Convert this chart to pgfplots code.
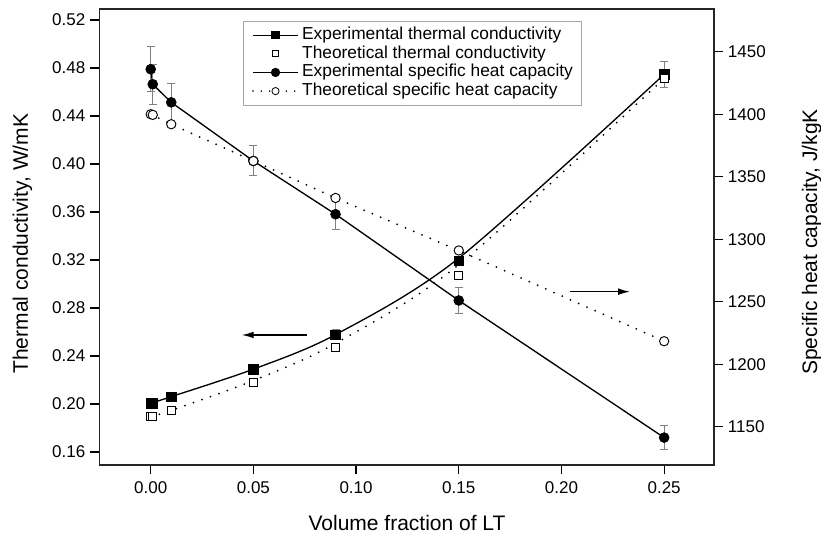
\documentclass[border=0pt]{standalone}
\usepackage{fontspec}
\setmainfont{Liberation Sans}
\usepackage{pgfplots}
\usepackage{pgfplotstable}
\pgfplotsset{compat=1.18}
\usetikzlibrary{arrows.meta}
\definecolor{errgray}{HTML}{808080}

\pgfplotstableread{
x y e
0 0.2005 0.003
0.001 0.2005 0.003
0.01 0.2061 0.003
0.05 0.2290 0.004
0.09 0.2578 0.004
0.15 0.3192 0.003
0.25 0.4747 0.011
}\tcexp
\pgfplotstableread{
x y
0 0.1895
0.001 0.1898
0.01 0.1944
0.05 0.2178
0.09 0.2472
0.15 0.3067
0.25 0.4713
}\tctheo
\pgfplotstableread{
x y e
0 1436 18
0.001 1424 16
0.01 1409.5 15
0.05 1362.6 12
0.09 1320 12
0.15 1251 10.7
0.25 1141.3 9.3
}\hcexp
\pgfplotstableread{
x y
0 1400
0.001 1399.5
0.01 1392
0.05 1362.6
0.09 1333
0.15 1291
0.25 1218.4
}\hctheo

\begin{document}
\begin{tikzpicture}
\useasboundingbox (-74.5pt,-52.5pt) rectangle (541.3pt,348.75pt);
\pgfplotsset{
  common/.style={scale only axis, width=461pt, height=342pt,
    xmin=-0.02502, xmax=0.27425,
    tick align=outside, major tick length=7pt,
    tick style={black, line width=0.9pt},
    axis line style={line width=1pt, black!85},
    /pgf/number format/assume math mode=true,
    ticklabel style={font=\fontsize{12.75}{15}\selectfont},
    scaled ticks=false, minor tick num=0},
  ebar/.style={error bars/.cd, y dir=both, y explicit,
    error bar style={errgray, line width=0.75pt},
    error mark options={rotate=90, errgray, mark size=3pt, line width=0.75pt}},
}
\begin{axis}[common, ymin=0.14917, ymax=0.52917, tick pos=left,
  xtick={0,0.05,0.1,0.15,0.2,0.25},
  ytick={0.16,0.2,0.24,0.28,0.32,0.36,0.4,0.44,0.48,0.52},
  xticklabel style={/pgf/number format/.cd, fixed, fixed zerofill, precision=2},
  yticklabel style={/pgf/number format/.cd, fixed, fixed zerofill, precision=2},
  xticklabel shift=2pt]
% theoretical conductivity dotted curve
\addplot[forget plot, black, line width=1.5pt, line cap=round, dash pattern=on 0pt off 6.75pt, smooth]
  coordinates {(0,0.1895) (0.01,0.1946) (0.05,0.2195) (0.09,0.2505) (0.15,0.316) (0.25,0.4713)};
% experimental conductivity line
\addplot[forget plot, black, line width=1pt, smooth]
  coordinates {(0,0.2005) (0.01,0.2061) (0.05,0.2290) (0.09,0.2578) (0.15,0.3215) (0.25,0.4747)};
\addplot[forget plot, only marks, mark=square*, mark size=3.6pt, mark options={black}, ebar]
  table[x=x, y=y, y error=e]{\tcexp};
\addplot[forget plot, only marks, mark=square*, mark size=3pt, mark options={fill=white, draw=black, line width=0.7pt}]
  table[x=x, y=y]{\tctheo};
\draw[-{Latex[length=9pt,width=5pt]}, line width=1pt] (axis cs:0.0759,0.2575) -- (axis cs:0.0443,0.2575);
\draw[-{Latex[length=9pt,width=5pt]}, line width=1pt] (axis cs:0.2041,0.2936) -- (axis cs:0.2334,0.2936);
\end{axis}

\begin{axis}[common, ymin=1119.4, ymax=1484.2, axis x line=none, axis y line*=right,
  ytick={1150,1200,1250,1300,1350,1400,1450},
  yticklabel style={/pgf/number format/.cd, fixed, precision=0, 1000 sep={}},
  legend cell align=left,
  legend image code/.code={\draw[mark repeat=2,mark phase=2,#1] plot coordinates {(0pt,0pt) (16.9pt,0pt) (33.75pt,0pt)};},
  legend style={at={(axis description cs:0.2333,0.9743)}, anchor=north west,
    draw=gray!70, line width=0.6pt, fill=white,
    font=\fontsize{13}{13}\selectfont,
    inner xsep=6.75pt, inner ysep=3.5pt, column sep=2.5pt,
    nodes={inner sep=0pt, text height=10.3pt, text depth=3.7pt}}]
\addplot[forget plot, black, line width=1.5pt, line cap=round, dash pattern=on 0pt off 6.75pt]
  coordinates {(0,1400) (0.01,1392) (0.05,1362.6) (0.09,1333) (0.15,1291) (0.25,1218.4)};
\addplot[forget plot, black, line width=1pt]
  coordinates {(0,1436) (0.001,1424) (0.01,1409.5) (0.05,1362.6) (0.09,1320) (0.15,1251) (0.25,1141.3)};
\addplot[forget plot, only marks, mark=*, mark size=3.75pt, mark options={black}, ebar]
  table[x=x, y=y, y error=e]{\hcexp};
\addplot[forget plot, only marks, mark=*, mark size=3.5pt, mark options={fill=white, draw=black, line width=0.7pt}]
  table[x=x, y=y]{\hctheo};
\addlegendimage{black, line width=0.9pt, mark=square*, mark size=2.6pt, mark options={solid}}
\addlegendimage{only marks, mark=square*, mark size=2.3pt, mark options={solid, fill=white, draw=black, line width=0.6pt}}
\addlegendimage{black, line width=0.9pt, mark=*, mark size=3pt, mark options={solid}}
\addlegendimage{black, line width=1.3pt, line cap=round, dash pattern=on 0pt off 6.25pt, mark=*, mark size=2.7pt, mark options={solid, fill=white, draw=black, line width=0.6pt}}
\legend{Experimental thermal conductivity, Theoretical thermal conductivity, Experimental specific heat capacity, Theoretical specific heat capacity}
\end{axis}

\node[rotate=90, anchor=base, font=\fontsize{15.75}{18}\selectfont] at (-53.5pt,166pt) {Thermal conductivity, W/mK};
\node[rotate=90, anchor=base, font=\fontsize{15.75}{18}\selectfont] at (538.3pt,167.25pt) {Specific heat capacity, J/kgK};
\node[anchor=base, font=\fontsize{15.75}{18}\selectfont] at (230.8pt,-49.3pt) {Volume fraction of LT};
\end{tikzpicture}
\end{document}
